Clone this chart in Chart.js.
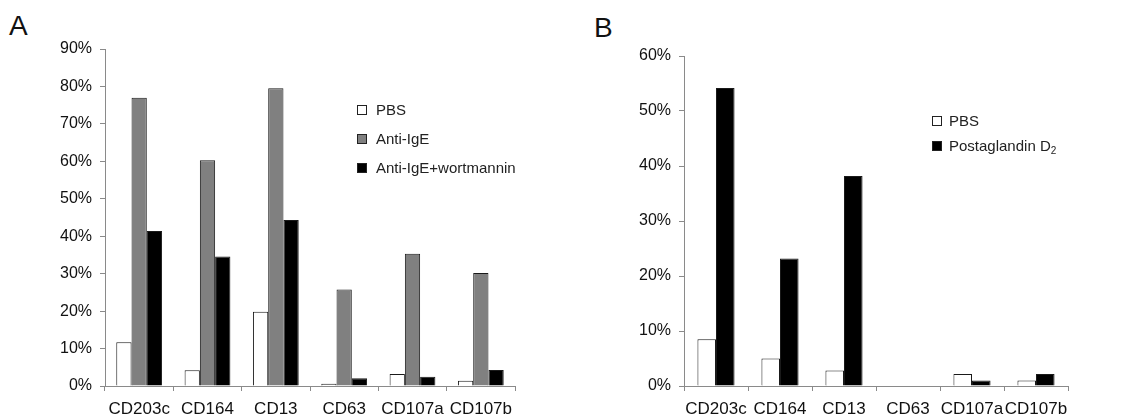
<!DOCTYPE html>
<html>
<head>
<meta charset="utf-8">
<script src="https://cdn.jsdelivr.net/npm/chart.js@4/dist/chart.umd.min.js"></script>
<style>
  html, body { margin: 0; padding: 0; background: #fff; }
  body { width: 1127px; height: 416px; position: relative; overflow: hidden;
         font-family: "Liberation Sans", Arial, sans-serif; color: #111; }
  canvas { position: absolute; top: 0; }
  #cA { left: 0; }
  #cB { left: 560px; }
  .panel { position: absolute; font-size: 28px; line-height: 1; }
  .legend { position: absolute; font-size: 15px; color: #222; }
  .legend .row { position: relative; white-space: nowrap; }
  .legend .sw { position: absolute; left: 0; width: 8px; height: 8px; border: 1px solid #222; }
  .legend .tx { position: absolute; }
  .legend sub { font-size: 10px; vertical-align: -3px; line-height: 0; }
</style>
</head>
<body>
<div class="panel" style="left:9px; top:12px;">A</div>
<div class="panel" style="left:594px; top:14px;">B</div>
<canvas id="cA" width="560" height="416"></canvas>
<canvas id="cB" width="567" height="416"></canvas>
<div id="legA" class="legend"></div>
<div id="legB" class="legend"></div>
<script>
// ---- data ----
const categories = ['CD203c', 'CD164', 'CD13', 'CD63', 'CD107a', 'CD107b'];

const seriesNamesA = ['PBS', 'Anti-IgE', 'Anti-IgE+wortmannin'];
const pbsA       = [11.7, 4.2, 19.8, 0.6, 3.2, 1.4];
const antiIgeA   = [77.0, 60.3, 79.5, 25.8, 35.3, 30.2];
const wortA      = [41.4, 34.6, 44.3, 2.1, 2.5, 4.3];
const yTicksA    = ['0%', '10%', '20%', '30%', '40%', '50%', '60%', '70%', '80%', '90%'];

const seriesNamesB = ['PBS', 'Postaglandin D₂'];
const pbsB       = [8.5, 5.0, 2.8, 0, 2.2, 1.0];
const pgd2B      = [54.2, 23.2, 38.2, 0, 1.0, 2.2];
const yTicksB    = ['0%', '10%', '20%', '30%', '40%', '50%', '60%'];

// ---- styles ----
const FILLS = { white: '#ffffff', gray: '#808080', black: '#000000' };
const FONT = '"Liberation Sans", Arial, sans-serif';
Chart.defaults.font.family = FONT;
Chart.defaults.color = '#111';

function makeChart(canvasId, seriesNames, seriesData, fills, yTicks, opts) {
  const datasets = seriesData.map((d, i) => ({
    label: seriesNames[i],
    data: d,
    backgroundColor: fills[i],
    borderColor: '#1a1a1a',
    borderWidth: 1,
    borderSkipped: 'bottom',
    barPercentage: 1.0,
    categoryPercentage: opts.catPct
  }));
  return new Chart(document.getElementById(canvasId), {
    type: 'bar',
    data: { labels: categories, datasets },
    options: {
      responsive: false,
      animation: false,
      devicePixelRatio: 1,
      layout: { padding: { left: 0, right: opts.padRight, top: opts.padTop, bottom: 0 } },
      plugins: { legend: { display: false }, tooltip: { enabled: false } },
      scales: {
        x: {
          grid: { display: true, drawOnChartArea: false, drawTicks: true, tickLength: 5, color: '#8a8a8a', offset: true },
          border: { display: true, color: '#8a8a8a', width: 1 },
          ticks: { font: { size: 17 }, color: '#111', padding: 8, maxRotation: 0, autoSkip: false },
          afterFit: s => { s.height = 30; }
        },
        y: {
          min: 0, max: opts.max,
          grid: { display: true, drawOnChartArea: false, drawTicks: true, tickLength: 5, color: '#8a8a8a' },
          border: { display: true, color: '#8a8a8a', width: 1 },
          ticks: { stepSize: 10, font: { size: 16 }, color: '#111', padding: 8,
                   callback: (v) => yTicks[Math.round(v / 10)] },
          afterFit: s => { s.width = opts.yWidth; }
        }
      }
    }
  });
}

const chartA = makeChart('cA', seriesNamesA, [pbsA, antiIgeA, wortA],
  [FILLS.white, FILLS.gray, FILLS.black], yTicksA,
  { max: 90, catPct: 0.67, padRight: 45, padTop: 49, yWidth: 105 });

const chartB = makeChart('cB', seriesNamesB, [pbsB, pgd2B],
  [FILLS.white, FILLS.black], yTicksB,
  { max: 60, catPct: 0.58, padRight: 59, padTop: 56, yWidth: 124 });

function buildLegend(elId, chart, left, top, spacing, textGap) {
  const el = document.getElementById(elId);
  el.style.left = left + 'px';
  el.style.top = top + 'px';
  chart.data.datasets.forEach((ds, i) => {
    const row = document.createElement('div');
    row.className = 'row';
    row.style.position = 'absolute';
    row.style.top = (i * spacing) + 'px';
    const sw = document.createElement('span');
    sw.className = 'sw';
    sw.style.background = ds.backgroundColor;
    sw.style.top = '-5px';
    const tx = document.createElement('span');
    tx.className = 'tx';
    tx.style.left = textGap + 'px';
    tx.style.top = '-9px';
    tx.innerHTML = ds.label.replace('₂', '<sub>2</sub>');
    row.appendChild(sw); row.appendChild(tx);
    el.appendChild(row);
  });
}
buildLegend('legA', chartA, 357, 110, 29, 19);
buildLegend('legB', chartB, 932, 121, 25, 17);
</script>
</body>
</html>
